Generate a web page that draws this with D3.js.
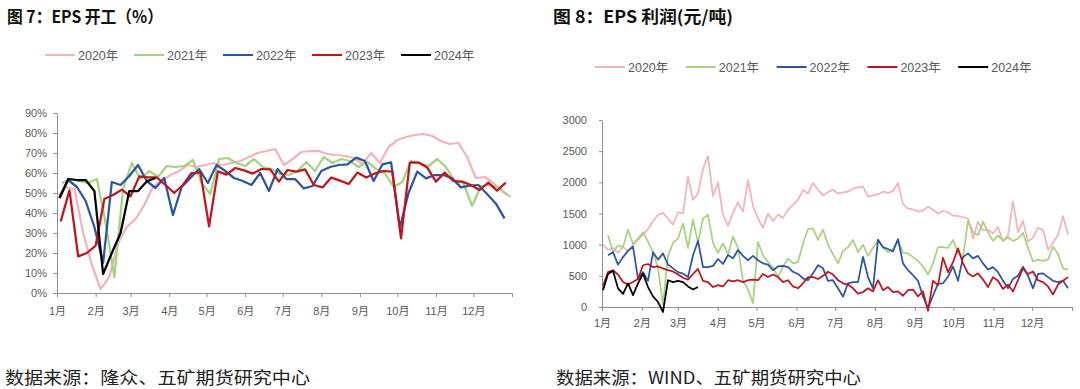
<!DOCTYPE html>
<html>
<head>
<meta charset="utf-8">
<script src="https://cdn.jsdelivr.net/npm/d3@7"></script>
<style>
  body { margin: 0; background: #fff; }
  svg { display: block; }
</style>
</head>
<body>
<script>
// 系列与刻度
const seriesNames = ["2020年", "2021年", "2022年", "2023年", "2024年"];
const seriesColors = ["#f4b3b8", "#a6d282", "#2c55a0", "#c0141e", "#000000"];
const monthLabels = ["1月", "2月", "3月", "4月", "5月", "6月", "7月", "8月", "9月", "10月", "11月", "12月"];
const rateTicks = [0, 10, 20, 30, 40, 50, 60, 70, 80, 90];
const profitTicks = [0, 500, 1000, 1500, 2000, 2500, 3000];

// 图7 EPS 开工（%），周度，每个系列的首周日期（1月几日）
const rateStartDay = [1, 5, 3, 4, 3];
const rate2020 = [48, 53, 52, 30, 14, 2, 8, 25, 33, 37, 44, 53, 56, 59, 61, 64, 63, 64, 65, 64, 65, 66, 68, 70, 71, 72,
  64, 67, 70.5, 71, 71, 69.5, 69, 68.5, 67.5, 64.5, 70, 65, 73, 76.5, 78, 79, 79.5, 78.5, 76, 74.5, 75, 68, 57.5, 58, 55, 51, 48];
const rate2021 = [55, 57, 56, 55, 57, 35, 8, 52, 65, 57, 61, 58, 63.5, 63, 63.5, 66.5, 55, 49.5, 67, 67.5, 65, 63.5, 67, 63,
  62, 59.5, 59, 61, 65.5, 61, 68, 65, 67, 66, 63, 65.5, 62, 60, 53, 55.5, 66, 65, 63.5, 67, 63, 56, 55, 43.5, 53.5, 54, 53, 49];
const rate2022 = [47.5, 56.5, 53, 46, 33, 15, 55.5, 54, 58.5, 64, 56, 52.5, 57.5, 39, 53, 57.5, 62, 55, 64, 61, 57.5, 56, 54, 60,
  51, 62, 57, 57, 52.3, 53.5, 61, 63, 64, 64.3, 67.7, 66, 56, 64.3, 65.3, 32.7, 50, 60.7, 57.3, 59, 59, 57.3, 52.8, 53.7, 54, 49.5, 44.8, 37.3];
const rate2023 = [35.8, 51.3, 18.3, 20, 23.7, 47, 49, 51.7, 48.3, 58.3, 57.8, 57.8, 54, 50, 54, 60, 60.3, 33.3, 60.8, 59.2, 62.5, 61.3, 59.7, 62,
  61.8, 55.7, 61.5, 60.7, 61.8, 54, 52.8, 57.7, 56.2, 54.5, 60.2, 57.8, 59.8, 61, 60.7, 27.3, 65.2, 65.2, 62.7, 55.7, 60.2, 56, 55.7, 54, 51.5, 55.2, 51.2, 55.2];
const rate2024 = [47.5, 57, 56.5, 56.5, 51, 9.5, 20, 30, 51, 51, 55.8, 57.5];

// 图8 EPS 利润（元/吨），约每3.9天一个值
const profitFirstDay = 0.78;
const profitStepDays = 3.883;
const profit2020 = [1000, 915, 950, 870, 960, 900, 995, 1075, 1160, 1250,
  1380, 1480, 1510, 1420, 1320, 1520, 1500, 2090, 1720, 1820,
  2220, 2420, 1780, 2000, 1480, 1300, 1520, 1680, 1530, 2035,
  1620, 1420, 1270, 1500, 1380, 1480, 1430, 1560, 1640, 1720,
  1880, 1820, 1990, 1880, 1790, 1840, 1880, 1820, 1840, 1850,
  1900, 1920, 1930, 1770, 1790, 1810, 1850, 1830, 1860, 1990,
  1650, 1580, 1565, 1530, 1550, 1610, 1560, 1500, 1540, 1520,
  1465, 1460, 1440, 1420, 1100, 1370, 1230, 1240, 1180, 1280,
  1060, 1150, 1690, 1200, 1380, 1050, 1110, 1270, 1240, 920,
  1030, 1160, 1460, 1160];
const profit2021 = [null, 1150, 880, 990, 960, 1240, 1010, 1100, 1200, 1050,
  880, 620, 40, 820, 1030, 1100, 1340, 950, 1400, 1030,
  1420, 1480, 1030, 870, 1020, 840, 1130, 950, 420, 280,
  60, 1045, 830, 720, 630, 480, 645, 780, 700, 720,
  1020, 1250, 1260, 1075, 1240, 1000, 840, 700, 900, 960,
  1075, 880, 1000, 820, 950, 1075, 950, 880, 930, 1075,
  870, 860, 800, 740, 650, 520, 700, 960, 960, 950,
  1075, 870, 800, 1380, 1200, 1150, 1370, 1200, 1060, 1150,
  1060, 1120, 1060, 1100, 1190, 950, 730, 760, 740, 760,
  965, 850, 620, 600];
const profit2022 = [null, 830, 880, 680, 800, 900, 970, 450, 560, 420,
  880, 760, 860, 680, 620, 560, 535, 480, 830, 1060,
  640, 640, 660, 770, 690, 835, 780, 915, 820, 750,
  820, 750, 700, 680, 590, 650, 660, 640, 565, 530,
  460, 430, 540, 670, 620, 420, 430, 300, 165, 380,
  400, 400, 805, 480, 300, 1080, 960, 930, 890, 1090,
  700, 590, 510, 420, 170, -20, 180, 375, 380, 485,
  650, 420, 800, 860, 780, 820, 700, 600, 640, 560,
  420, 300, 450, 500, 645, 500, 300, 530, 540, 480,
  420, 400, 420, 300];
const profit2023 = [340, 560, 590, 520, 400, 360, 400, 450, 670, 690,
  640, 650, 620, 590, 570, 520, 470, 440, 530, 610,
  420, 400, 320, 350, 330, 430, 410, 430, 400, 430,
  440, 430, 530, 480, 520, 480, 400, 430, 330, 300,
  380, 480, 480, 450, 500, 565, 520, 430, 380, 360,
  300, 215, 240, 300, 250, 430, 270, 320, 240, 250,
  180, 270, 280, 170, 250, -60, 420, 350, 790, 560,
  720, 940, 700, 540, 490, 540, 440, 320, 480, 420,
  290, 360, 250, 430, 620, 530, 570, 430, 400, 330,
  200, 360, 420, 480];
const profit2024 = [270, 530, 580, 300, 210, 380, 190, 380, 535, 320,
  170, 80, -80, 430, 400, 420, 400, 330, 280, 320];

const rateSeries = [rate2020, rate2021, rate2022, rate2023, rate2024];
const profitSeries = [profit2020, profit2021, profit2022, profit2023, profit2024];

const width = 1080, height = 389;
const cjk = "'Noto Sans CJK SC', sans-serif";
const latin = "'Liberation Sans', 'Noto Sans CJK SC', sans-serif";

const svg = d3.select("body").append("svg")
  .attr("width", width)
  .attr("height", height)
  .style("font-family", latin);

svg.append("rect").attr("width", width).attr("height", height).attr("fill", "#fff");

const yearStart = new Date(2023, 0, 1);
const yearEnd = new Date(2024, 0, 1);
const monthTicks = d3.timeMonth.range(yearStart, yearEnd).concat([yearEnd]);

function drawPanel(o) {
  const x = d3.scaleTime().domain([yearStart, yearEnd]).range([o.left, o.right]);
  const y = d3.scaleLinear().domain([o.yTicks[0], o.yTicks[o.yTicks.length - 1]]).range([o.bottom, o.top]);

  const ya = svg.append("g")
    .attr("transform", `translate(${o.left},0)`)
    .call(d3.axisLeft(y).tickValues(o.yTicks).tickFormat(o.yFormat)
      .tickSize(o.yTickSize).tickPadding(o.yPad).tickSizeOuter(0));

  const xa = svg.append("g")
    .attr("transform", `translate(0,${y(0)})`)
    .call(d3.axisBottom(x).tickValues(monthTicks)
      .tickFormat((d, i) => i < 12 ? monthLabels[i] : "")
      .tickSize(4).tickPadding(o.xPad).tickSizeOuter(0));

  [ya, xa].forEach(a => {
    a.selectAll("path, line").attr("stroke", "#8f8f8f").attr("stroke-width", 1);
    a.selectAll("text").attr("fill", "#595959").attr("font-size", 11).style("font-family", latin);
  });

  const line = d3.line()
    .defined(d => d.v != null)
    .x(d => x(d.date))
    .y(d => y(d.v));

  o.series.forEach((s, i) => {
    svg.append("path")
      .datum(s.map((v, k) => ({ date: o.dateOf(i, k), v: v })))
      .attr("fill", "none")
      .attr("stroke", seriesColors[i])
      .attr("stroke-width", o.lineWidth)
      .attr("stroke-linejoin", "round")
      .attr("d", line);
  });

  // 图例
  const lg = svg.append("g").attr("transform", `translate(${o.legendX},${o.legendY})`);
  seriesNames.forEach((name, i) => {
    const item = lg.append("g").attr("transform", `translate(${i * o.legendStep},0)`);
    item.append("line")
      .attr("x1", 0).attr("x2", 30)
      .attr("stroke", seriesColors[i]).attr("stroke-width", 2);
    item.append("text")
      .attr("x", 33).attr("y", 4.5)
      .attr("font-size", 12.5)
      .attr("fill", "#595959")
      .text(name);
  });

  svg.append("text")
    .attr("x", o.titleX).attr("y", 23)
    .attr("font-size", 17).attr("font-weight", 700)
    .attr("fill", "#111")
    .style("font-family", cjk)
    .attr("textLength", o.titleLen).attr("lengthAdjust", "spacingAndGlyphs")
    .text(o.title);

  svg.append("text")
    .attr("x", o.sourceX).attr("y", 384)
    .attr("font-size", 17)
    .attr("fill", "#222")
    .style("font-family", cjk)
    .attr("textLength", 305).attr("lengthAdjust", "spacingAndGlyphs")
    .text(o.source);
}

drawPanel({
  left: 57, right: 512, top: 113, bottom: 293,
  yTicks: rateTicks, yFormat: d => d + "%", yTickSize: 4, yPad: 6, xPad: 10,
  series: rateSeries,
  dateOf: (i, k) => new Date(2023, 0, rateStartDay[i] + 7 * k),
  lineWidth: 2.25,
  legendX: 45, legendY: 55, legendStep: 89,
  title: "图 7：EPS 开工（%）", titleX: 7, titleLen: 156,
  source: "数据来源：隆众、五矿期货研究中心", sourceX: 5
});

drawPanel({
  left: 602, right: 1072, top: 120, bottom: 307,
  yTicks: profitTicks, yFormat: d => d, yTickSize: 3, yPad: 12, xPad: 8,
  series: profitSeries,
  dateOf: (i, k) => new Date(+yearStart + (profitFirstDay + k * profitStepDays) * 864e5),
  lineWidth: 1.75,
  legendX: 595, legendY: 67, legendStep: 90.8,
  title: "图 8：EPS 利润(元/吨)", titleX: 553, titleLen: 180,
  source: "数据来源：WIND、五矿期货研究中心", sourceX: 556
});
</script>
</body>
</html>
